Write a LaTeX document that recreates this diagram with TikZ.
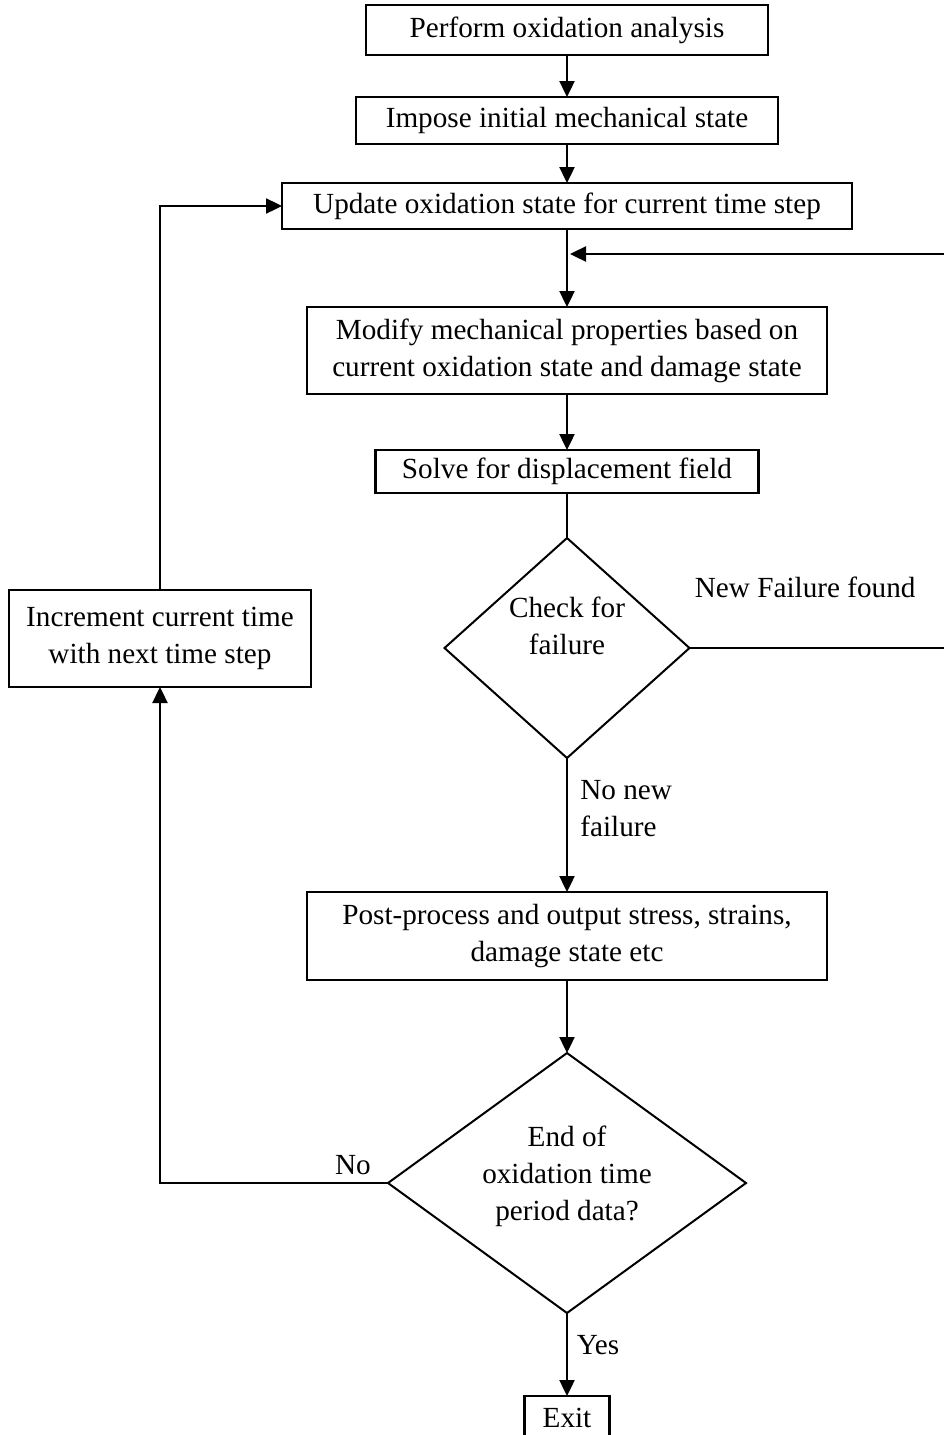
\documentclass[tikz,border=0pt]{standalone}
\usepackage{fontspec}
\setmainfont{Liberation Serif}
\usetikzlibrary{positioning,shapes.geometric,arrows.meta}
\tikzset{
  proc/.style={draw, line width=1.1pt, align=center, inner sep=0pt, outer sep=0pt},
  dec/.style={diamond, draw, line width=1pt, align=center, inner sep=0pt, outer sep=0pt},
  lbl/.style={inner sep=0pt, align=left},
  arr/.style={-{Triangle[length=8pt,width=7.5pt]}, line width=1.2pt},
  ln/.style={line width=1.2pt}
}

\begin{document}
\begin{tikzpicture}[x=0.5pt, y=-0.5pt, font=\fontsize{14.6pt}{18.5pt}\selectfont]
      \useasboundingbox (0,0) rectangle (943,1435) ;

      \node[proc, minimum width=201pt, minimum height=25pt] (perf) at (567,30) {Perform oxidation analysis} ;
      \node[proc, minimum width=211pt, minimum height=23.5pt, below=21pt of perf] (impose) {Impose initial mechanical state} ;
      \node[proc, minimum width=285pt, minimum height=23pt, below=19.5pt of impose] (upd) {Update oxidation state for current time step} ;
      \node[proc, minimum width=260pt, minimum height=43.5pt, below=39pt of upd] (modp) {Modify mechanical properties based on\\current oxidation state and damage state} ;
      \node[proc, minimum width=191.5pt, minimum height=21.5pt, below=28pt of modp] (solve) {Solve for displacement field} ;
      \node[dec, minimum width=122.5pt, minimum height=110pt, aspect=1.1, below=22.5pt of solve] (chk) {Check for\\failure\rule[-22pt]{0pt}{0pt}} ;
      \node[proc, minimum width=260pt, minimum height=44pt, below=67pt of chk] (post) {Post-process and output stress, strains,\\damage state etc} ;
      \node[dec, minimum width=179pt, minimum height=130pt, aspect=1.37, below=36.5pt of post] (endq) {End of\\oxidation time\\period data?\rule[-10pt]{0pt}{0pt}} ;
      \node[proc, minimum width=42.5pt, minimum height=22pt, below=41.5pt of endq] (exitb) {Exit} ;
      \node[proc, minimum width=151pt, minimum height=48.5pt] (incr) at (160,638.5) {Increment current time\\with next time step} ;

      \coordinate (fbk) at ([xshift=1.5pt, yshift=-12.5pt]upd.south) ;

      \node[lbl, anchor=west] (nff) at ([xshift=2.5pt, yshift=30.5pt]chk.east) {New Failure found} ;
      \node[lbl, anchor=west] (nnf) at ([xshift=6.5pt, yshift=-25.5pt]chk.south) {No new\\failure} ;
      \node[lbl] (no) at ([xshift=-17.5pt, yshift=9pt]endq.west) {No} ;
      \node[lbl] (yes) at ([xshift=15.5pt, yshift=-16pt]endq.south) {Yes} ;

      \draw[arr] (perf) -- (impose) ;
      \draw[arr] (impose) -- (upd) ;
      \draw[arr] (upd) -- (modp) ;
      \draw[arr] (modp) -- (solve) ;
      \draw[ln] (solve) -- (chk) ;
      \draw[arr] (chk) -- (post) ;
      \draw[arr] (post) -- (endq) ;
      \draw[arr] (endq) -- (exitb) ;
      \draw[arr] (chk.east) -- ++(140pt,0) |- (fbk) ;
      \draw[arr] (endq.west) -| (incr.south) ;
      \draw[arr] (incr.north) |- (upd.west) ;
\end{tikzpicture}
\end{document}
